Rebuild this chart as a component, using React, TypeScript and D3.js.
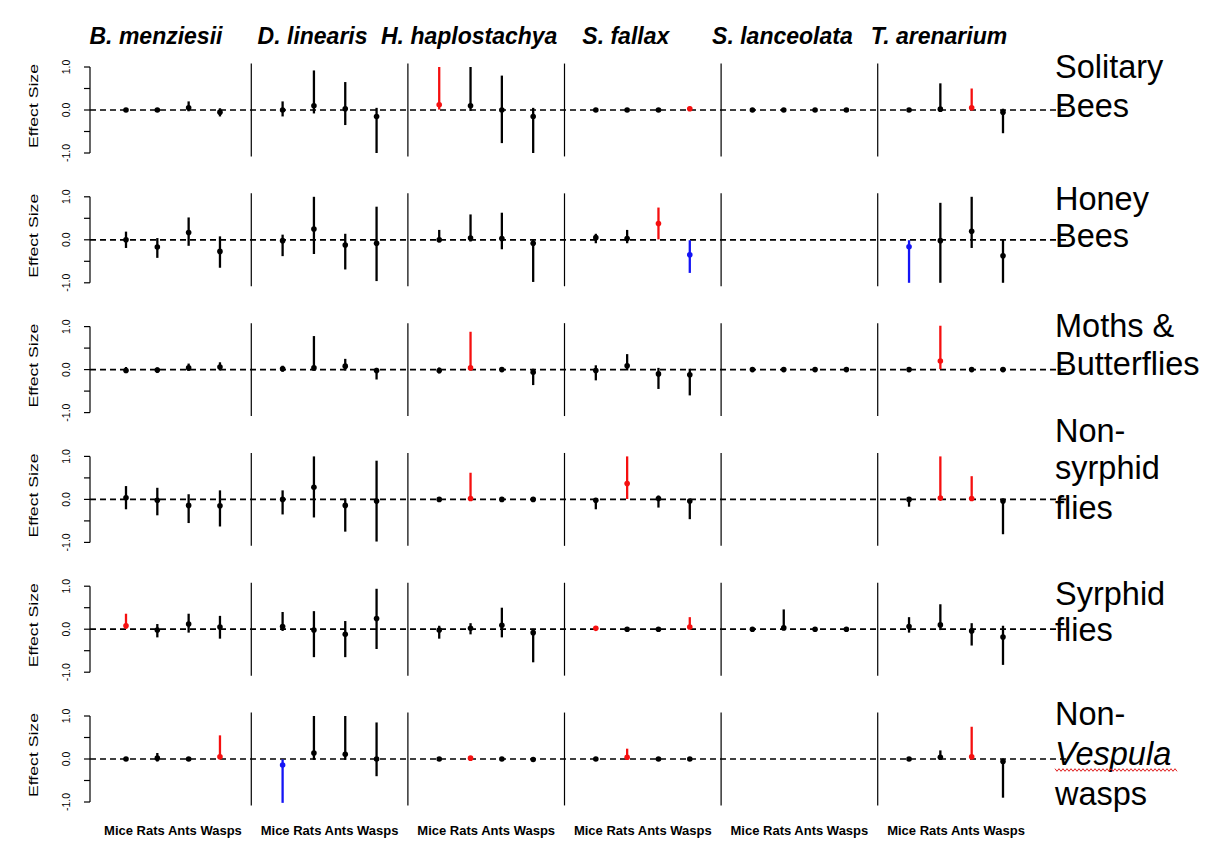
import React from "react";
import * as d3 from "d3";

const species = ["B. menziesii", "D. linearis", "H. haplostachya", "S. fallax", "S. lanceolata", "T. arenarium"];
const predators = ["Mice", "Rats", "Ants", "Wasps"];
const pollinatorLabels = [
  ["Solitary", "Bees"],
  ["Honey", "Bees"],
  ["Moths &", "Butterflies"],
  ["Non-", "syrphid", "flies"],
  ["Syrphid", "flies"],
  ["Non-", "Vespula", "wasps"],
];
const yTicks = [-1, -0.5, 0, 0.5, 1];
const yTickLabels = ["-1.0", "", "0.0", "", "1.0"];

// Effect sizes (estimate, lower, upper) per pollinator group; order: species x (Mice, Rats, Ants, Wasps)
const N = null;
const estSolitary = [0, 0, 0.05, -0.05, 0, 0.1, 0.03, -0.15, 0.12, 0.1, 0, -0.15, 0, 0, 0, 0.03, 0, 0, 0, 0, 0, 0.02, 0.05, -0.05];
const loSolitary = [-0.04, -0.04, -0.03, -0.15, -0.15, -0.08, -0.35, -1.0, 0.01, -0.02, -0.77, -1.0, -0.04, -0.04, -0.04, 0.01, -0.04, -0.04, -0.04, -0.04, -0.04, -0.02, 0.01, -0.54];
const hiSolitary = [0.04, 0.04, 0.2, 0.04, 0.2, 0.92, 0.65, 0.05, 1.0, 1.0, 0.8, 0.05, 0.04, 0.04, 0.04, 0.08, 0.04, 0.04, 0.04, 0.04, 0.04, 0.62, 0.5, 0.03];

const estHoney = [0, -0.17, 0.17, -0.27, -0.02, 0.25, -0.12, -0.08, 0, 0.04, 0.03, -0.08, 0.05, 0.03, 0.38, -0.35, N, N, N, N, -0.16, -0.02, 0.2, -0.37];
const loHoney = [-0.19, -0.42, -0.14, -0.65, -0.38, -0.33, -0.69, -0.96, -0.06, -0.04, -0.22, -0.98, -0.08, -0.08, 0.01, -0.77, N, N, N, N, -1.0, -1.0, -0.19, -1.0];
const hiHoney = [0.19, 0.04, 0.52, 0.08, 0.12, 1.0, 0.14, 0.77, 0.23, 0.59, 0.63, 0.01, 0.14, 0.23, 0.75, -0.01, N, N, N, N, -0.01, 0.86, 1.0, 0.01];

const estMoths = [-0.02, -0.01, 0.04, 0.06, 0.02, 0.04, 0.08, -0.02, -0.02, 0.04, 0, -0.06, -0.02, 0.09, -0.1, -0.12, 0, 0, 0, 0, 0, 0.2, 0, 0];
const loMoths = [-0.08, -0.08, -0.03, -0.02, -0.05, -0.02, -0.02, -0.23, -0.09, 0.01, -0.05, -0.36, -0.25, -0.02, -0.45, -0.6, -0.04, -0.04, -0.04, -0.04, -0.04, 0.01, -0.04, -0.04];
const hiMoths = [0.06, 0.05, 0.14, 0.17, 0.09, 0.78, 0.25, 0.04, 0.05, 0.88, 0.05, 0.02, 0.1, 0.36, 0.04, 0.02, 0.04, 0.04, 0.04, 0.04, 0.04, 1.02, 0.04, 0.04];

const estNonSyrphid = [0.04, -0.02, -0.14, -0.15, 0, 0.28, -0.14, -0.04, 0, 0.02, 0, 0, -0.02, 0.37, 0.02, -0.04, N, N, N, N, 0, 0.03, 0.02, -0.04];
const loNonSyrphid = [-0.23, -0.37, -0.55, -0.63, -0.35, -0.42, -0.75, -0.98, -0.04, 0.01, -0.05, -0.04, -0.23, 0.01, -0.19, -0.46, N, N, N, N, -0.17, 0.01, 0.01, -0.81];
const hiNonSyrphid = [0.31, 0.27, 0.12, 0.21, 0.21, 1.0, 0.02, 0.9, 0.04, 0.62, 0.05, 0.04, 0.02, 1.0, 0.09, 0.01, N, N, N, N, 0.04, 1.0, 0.54, 0.01];

const estSyrphid = [0.08, -0.02, 0.12, 0.05, 0.06, -0.02, -0.12, 0.25, -0.02, 0.02, 0.09, -0.08, 0.02, 0, 0, 0.05, 0, 0.03, 0, 0, 0.06, 0.1, -0.04, -0.18];
const loSyrphid = [0.01, -0.19, -0.08, -0.22, -0.04, -0.65, -0.65, -0.46, -0.22, -0.12, -0.19, -0.77, 0.005, -0.04, -0.04, 0.01, -0.04, -0.02, -0.04, -0.04, -0.08, -0.02, -0.38, -0.83];
const hiSyrphid = [0.36, 0.12, 0.36, 0.31, 0.4, 0.42, 0.19, 0.94, 0.08, 0.14, 0.5, 0.01, 0.05, 0.04, 0.04, 0.28, 0.04, 0.46, 0.04, 0.04, 0.28, 0.58, 0.14, 0.08];

const estNonVespula = [0, 0.02, 0, 0.05, -0.14, 0.14, 0.11, 0, 0, 0.02, 0, -0.01, 0, 0.04, 0, 0, N, N, N, N, 0, 0.04, 0.05, -0.06];
const loNonVespula = [-0.04, -0.06, -0.04, 0.01, -1.02, -0.02, -0.02, -0.4, -0.04, 0.005, -0.04, -0.04, -0.04, 0.01, -0.04, -0.04, N, N, N, N, -0.04, -0.02, 0.01, -0.9];
const hiNonVespula = [0.04, 0.14, 0.04, 0.55, -0.01, 1.0, 1.0, 0.85, 0.04, 0.06, 0.04, 0.03, 0.04, 0.24, 0.04, 0.04, N, N, N, N, 0.04, 0.2, 0.75, 0.01];

const rows = [
  { est: estSolitary, lo: loSolitary, hi: hiSolitary },
  { est: estHoney, lo: loHoney, hi: hiHoney },
  { est: estMoths, lo: loMoths, hi: hiMoths },
  { est: estNonSyrphid, lo: loNonSyrphid, hi: hiNonSyrphid },
  { est: estSyrphid, lo: loSyrphid, hi: hiSyrphid },
  { est: estNonVespula, lo: loNonVespula, hi: hiNonVespula },
];

// label baseline offsets relative to each row's zero line
const labelOffsets = [
  [-32, 7],
  [-30, 7],
  [-33, 5],
  [-57, -20, 20],
  [-24, 12],
  [-34, 6, 46],
];

const FONT = "'Liberation Sans', Arial, Helvetica, sans-serif";
const RED = "#f50f0f";
const BLUE = "#1414f5";

export default function App() {
  const W = 1211;
  const H = 842;
  const x = d3.scaleLinear().domain([1, 29]).range([126, 1003]);
  const rowZero = d3.scaleLinear().domain([0, 5]).range([110, 759]);
  const axisX = 90;
  const lineEnd = x(31.07);
  const idx = (g: number, k: number) => 5 * g + k + 1;

  const wavy = (() => {
    const x0 = 1055, x1 = 1177, yb = 770;
    const pts: [number, number][] = [];
    let i = 0;
    for (let xx = x0; xx <= x1; xx += 2) {
      pts.push([xx, yb + (i % 2 === 0 ? -1.3 : 1.3)]);
      i++;
    }
    return d3.line()(pts) || "";
  })();

  return (
    <svg width={W} height={H} style={{ display: "block", position: "absolute", left: 0, top: 0, background: "#fff" }} fontFamily={FONT}>
      <rect x={0} y={0} width={W} height={H} fill="#fff" />
      {species.map((s, g) => (
        <text key={s} x={x(idx(g, 1.5)) - 17} y={44} textAnchor="middle" fontSize={23} fontWeight="bold" fontStyle="italic" fill="#000">
          {s}
        </text>
      ))}
      {rows.map((row, r) => {
        const z = rowZero(r);
        const y = d3.scaleLinear().domain([-1, 1]).range([z + 43, z - 43]);
        return (
          <g key={r}>
            <line x1={axisX} x2={axisX} y1={y(-1)} y2={y(1)} stroke="#000" strokeWidth={1.2} />
            {yTicks.map((t, i) => (
              <g key={t}>
                <line x1={axisX - 6} x2={axisX} y1={y(t)} y2={y(t)} stroke="#000" strokeWidth={1.2} />
                {yTickLabels[i] && (
                  <text transform={`translate(${axisX - 20},${y(t)}) rotate(-90)`} textAnchor="middle" fontSize={10.5} fill="#000">
                    {yTickLabels[i]}
                  </text>
                )}
              </g>
            ))}
            <text transform={`translate(38,${z - 4}) rotate(-90)`} textAnchor="middle" fontSize={13} textLength={84} lengthAdjust="spacingAndGlyphs" fill="#000">
              Effect Size
            </text>
            <line x1={axisX} x2={lineEnd} y1={y(0)} y2={y(0)} stroke="#000" strokeWidth={1.7} strokeDasharray="6,4" />
            {[1, 2, 3, 4, 5].map((g) => (
              <line key={g} x1={x(5 * g)} x2={x(5 * g)} y1={y(1.08)} y2={y(-1.08)} stroke="#000" strokeWidth={1.2} />
            ))}
            {row.est.map((e, i) => {
              if (e === null) return null;
              const lo = row.lo[i] as number;
              const hi = row.hi[i] as number;
              const g = Math.floor(i / 4);
              const k = i % 4;
              const cx = x(idx(g, k));
              const col = lo > 0 ? RED : hi < 0 ? BLUE : "#000";
              return (
                <g key={i}>
                  <line x1={cx} x2={cx} y1={y(lo)} y2={y(hi)} stroke={col} strokeWidth={2.3} />
                  <circle cx={cx} cy={y(e as number)} r={2.8} fill={col} />
                </g>
              );
            })}
            {pollinatorLabels[r].map((t, j) => (
              <text key={j} x={1055} y={z + labelOffsets[r][j]} fontSize={32.5} fill="#000" fontStyle={t === "Vespula" ? "italic" : "normal"}>
                {t}
              </text>
            ))}
          </g>
        );
      })}
      <path d={wavy} fill="none" stroke="#e02020" strokeWidth={1} />
      {species.map((s, g) => (
        <text key={s + "x"} x={x(idx(g, 1.5))} y={835} textAnchor="middle" fontSize={13} fontWeight="bold" fill="#000">
          {predators.join(" ")}
        </text>
      ))}
    </svg>
  );
}
